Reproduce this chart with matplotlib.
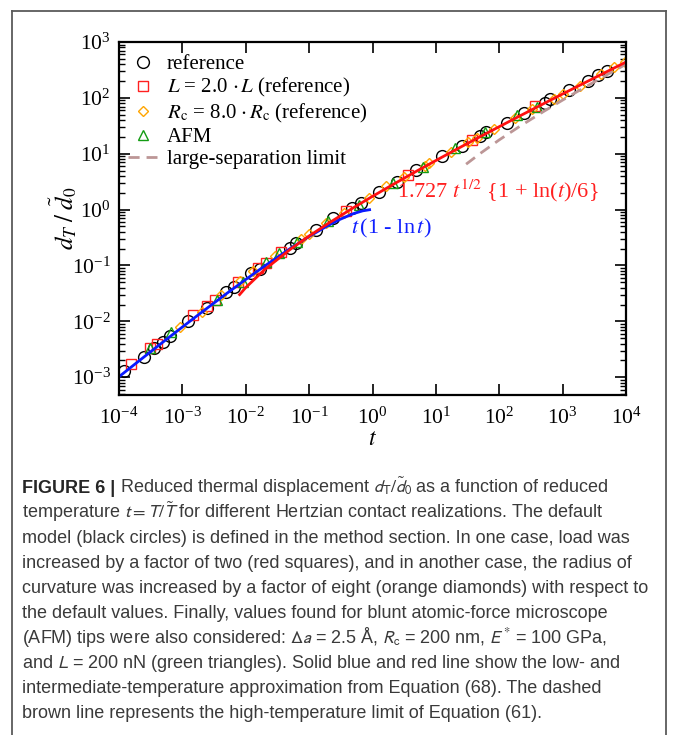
import matplotlib
matplotlib.use("Agg")
import matplotlib.pyplot as plt
from matplotlib.lines import Line2D

# data
ref_t = [1.22e-4, 2.47e-4, 3.54e-4, 4.99e-4, 6.30e-4, 1.23e-3, 2.45e-3, 4.94e-3, 6.55e-3,
         1.22e-2, 1.67e-2, 4.97e-2, 6.10e-2, 0.127, 0.237, 0.478, 0.652, 1.26, 2.45, 4.81,
         12.6, 25.5, 49.9, 62.1, 131, 245, 518, 624, 1259, 2541, 3581, 4966]
ref_d = [1.29e-3, 2.33e-3, 3.27e-3, 4.30e-3, 5.42e-3, 1.00e-2, 1.75e-2, 3.32e-2, 4.06e-2,
         7.21e-2, 8.61e-2, 0.209, 0.256, 0.424, 0.711, 1.07, 1.31, 2.06, 3.18, 5.13,
         9.10, 13.9, 20.6, 24.6, 36.0, 53.5, 80.4, 94.6, 139, 203, 259, 305]

load_t = [1.55e-4, 3.13e-4, 3.95e-4, 1.49e-3, 2.49e-3, 3.24e-3, 7.64e-3, 1.54e-2, 2.11e-2,
          3.64e-2, 0.378, 3.63, 37.7, 361]
load_d = [1.70e-3, 3.27e-3, 3.85e-3, 1.28e-2, 1.92e-2, 2.36e-2, 4.99e-2, 8.85e-2, 0.109,
          0.177, 0.96, 4.18, 17.9, 70.2]

rc_t = [9.31e-4, 2.03e-3, 4.09e-3, 8.26e-3, 1.32e-2, 2.88e-2, 7.34e-2, 0.100, 0.187, 0.349,
        0.891, 1.66, 3.10, 6.78, 7.91, 17.3, 32.2, 44.0, 82.2, 179, 334, 730, 997, 1862,
        4060, 6486, 9570]
rc_d = [7.93e-3, 1.47e-2, 2.90e-2, 5.34e-2, 8.04e-2, 0.149, 0.293, 0.360, 0.580, 0.873,
        1.61, 2.60, 3.91, 6.04, 6.74, 10.8, 16.3, 19.5, 28.2, 44.2, 63.8, 96.0, 115, 166,
        267, 350, 430]

afm_t = [3.13e-4, 6.61e-4, 3.51e-3, 8.93e-3, 2.11e-2, 3.36e-2, 6.49e-2, 0.202, 0.603, 2.10,
         6.27, 20.2, 60.1, 194, 391]
afm_d = [3.36e-3, 6.47e-3, 2.36e-2, 5.13e-2, 0.113, 0.166, 0.263, 0.621, 1.23, 2.97,
         5.88, 12.8, 24.6, 48.6, 68.3]

# low temperature approximation (blue)
low_t = [1e-4, 2e-4, 5e-4, 1e-3, 2e-3, 5e-3, 1e-2, 2e-2, 5e-2, 0.1, 0.2, 0.3, 0.5, 0.7, 0.9]
low_d = [1.02e-3, 1.90e-3, 4.30e-3, 7.91e-3, 1.443e-2, 3.15e-2, 5.61e-2, 9.82e-2, 0.200,
         0.330, 0.522, 0.661, 0.847, 0.950, 0.995]

# intermediate temperature approximation (red)
mid_t = [0.008, 0.01, 0.02, 0.05, 0.1, 0.2, 0.5, 1, 2, 5, 10, 20, 50, 100, 200, 500,
         1000, 2000, 5000, 10000]
mid_d = [0.0301, 0.0402, 0.0850, 0.193, 0.337, 0.565, 1.08, 1.727, 2.72, 4.90, 7.56,
         11.6, 20.2, 30.5, 46.0, 78.6, 117.5, 175, 295, 438]

# large-separation limit (dashed)
big_t = [30, 50, 100, 200, 500, 1000, 2000, 5000, 10000]
big_d = [6.5, 10.1, 17.7, 29.8, 57.0, 91.3, 144, 259, 400]

plt.rcParams["font.family"] = ["Liberation Serif", "DejaVu Serif"]
plt.rcParams["mathtext.fontset"] = "stix"
plt.rcParams["axes.unicode_minus"] = False

W, H = 673, 735
fig = plt.figure(figsize=(W / 100, H / 100), dpi=100)

ax = fig.add_axes([119 / W, 1 - 395 / H, (626 - 119) / W, (395 - 42) / H])
ax.set_xscale("log")
ax.set_yscale("log")

ax.plot(ref_t, ref_d, ls="none", marker="o", ms=8.5, mfc="none", mec="black", mew=1.0,
        label="reference")
ax.plot(load_t, load_d, ls="none", marker="s", ms=7.5, mfc="none", mec="#ff2020", mew=1.0,
        label=r"$L$ = 2.0 $\cdot\, L$ (reference)")
ax.plot(rc_t, rc_d, ls="none", marker="D", ms=5.5, mfc="none", mec="#ffa500", mew=1.0,
        label=r"$R_\mathrm{c}$ = 8.0 $\cdot\, R_\mathrm{c}$ (reference)")
ax.plot(afm_t, afm_d, ls="none", marker="^", ms=7, mfc="none", mec="#139c13", mew=1.0,
        label="AFM")
ax.plot(big_t, big_d, ls=(0, (4, 2.5)), color="#bc9696", lw=2,
        label="large-separation limit")
ax.plot(low_t, low_d, color="#0a1aff", lw=2)
ax.plot(mid_t, mid_d, color="#ff1010", lw=2)

ax.text(95, 2.2, r"1.727 $t^{1/2}$ {1 + ln($t$)/6}", color="#ff2020", fontsize=16,
        ha="center", va="center")
ax.text(2.0, 0.46, r"$t\,$(1 - ln$\,t$)", color="#1020ff", fontsize=16,
        ha="center", va="center")

ax.set_xlim(1e-4, 1e4)
ax.set_ylim(4.8e-4, 1e3)
ax.set_xticks([10.0 ** k for k in range(-4, 5)])
ax.set_yticks([10.0 ** k for k in range(-3, 4)])
ax.tick_params(which="both", direction="in", top=True, right=True, labelsize=15.5)
ax.tick_params(which="major", length=8, width=1.2)
ax.tick_params(axis="x", which="major", pad=9)
ax.tick_params(axis="y", which="major", pad=6)
ax.tick_params(which="minor", length=4, width=1)
for s in ax.spines.values():
    s.set_linewidth(1.6)

ax.set_xlabel(r"$t$", fontsize=17, labelpad=0)
ax.set_ylabel(r"$d_T\;/\;\tilde{d}_0$", fontsize=18)
ax.yaxis.set_label_coords(-0.078, 0.5)

ax.legend(loc="upper left", bbox_to_anchor=(0.018, 0.965), frameon=False, fontsize=15,
          borderpad=0, borderaxespad=0, handlelength=1.4, handletextpad=0.45,
          labelspacing=0.12, numpoints=1)

# outer frame (bottom edge is cut off)
fc = "#5a5a5a"
fig.add_artist(Line2D([12 / W, 12 / W], [0, 1 - 11 / H], color=fc, lw=1.3))
fig.add_artist(Line2D([12 / W, 666 / W], [1 - 11 / H, 1 - 11 / H], color=fc, lw=1.3))
fig.add_artist(Line2D([666 / W, 666 / W], [0, 1 - 11 / H], color=fc, lw=1.3))

# caption
cap_lines = [
    r" Reduced thermal displacement $d_\mathrm{T}/\tilde{d}_0$ as a function of reduced",
    r"temperature $t = T/\tilde{T}$ for different Hertzian contact realizations. The default",
    "model (black circles) is defined in the method section. In one case, load was",
    "increased by a factor of two (red squares), and in another case, the radius of",
    "curvature was increased by a factor of eight (orange diamonds) with respect to",
    "the default values. Finally, values found for blunt atomic-force microscope",
    r"(AFM) tips were also considered: $\Delta a$ = 2.5 Å, $R_\mathrm{c}$ = 200 nm, $E^{*}$ = 100 GPa,",
    r"and $L$ = 200 nN (green triangles). Solid blue and red line show the low- and",
    "intermediate-temperature approximation from Equation (68). The dashed",
    "brown line represents the high-temperature limit of Equation (61).",
]
cap_font = ["Liberation Sans", "DejaVu Sans"]
cap_col = "#3a3a3a"
y0 = 493
step = 25
head = fig.text(22 / W, 1 - y0 / H, "FIGURE 6 |", family=cap_font, fontsize=13,
                weight="bold", color="#262626", va="baseline")
fig.canvas.draw()
bb = head.get_window_extent()
for i, line in enumerate(cap_lines):
    x = bb.x1 / W if i == 0 else 22 / W
    fig.text(x, 1 - (y0 + i * step) / H, line, family=cap_font, fontsize=13,
             color=cap_col, va="baseline", math_fontfamily="stixsans")

fig.savefig("out.png", dpi=100)
